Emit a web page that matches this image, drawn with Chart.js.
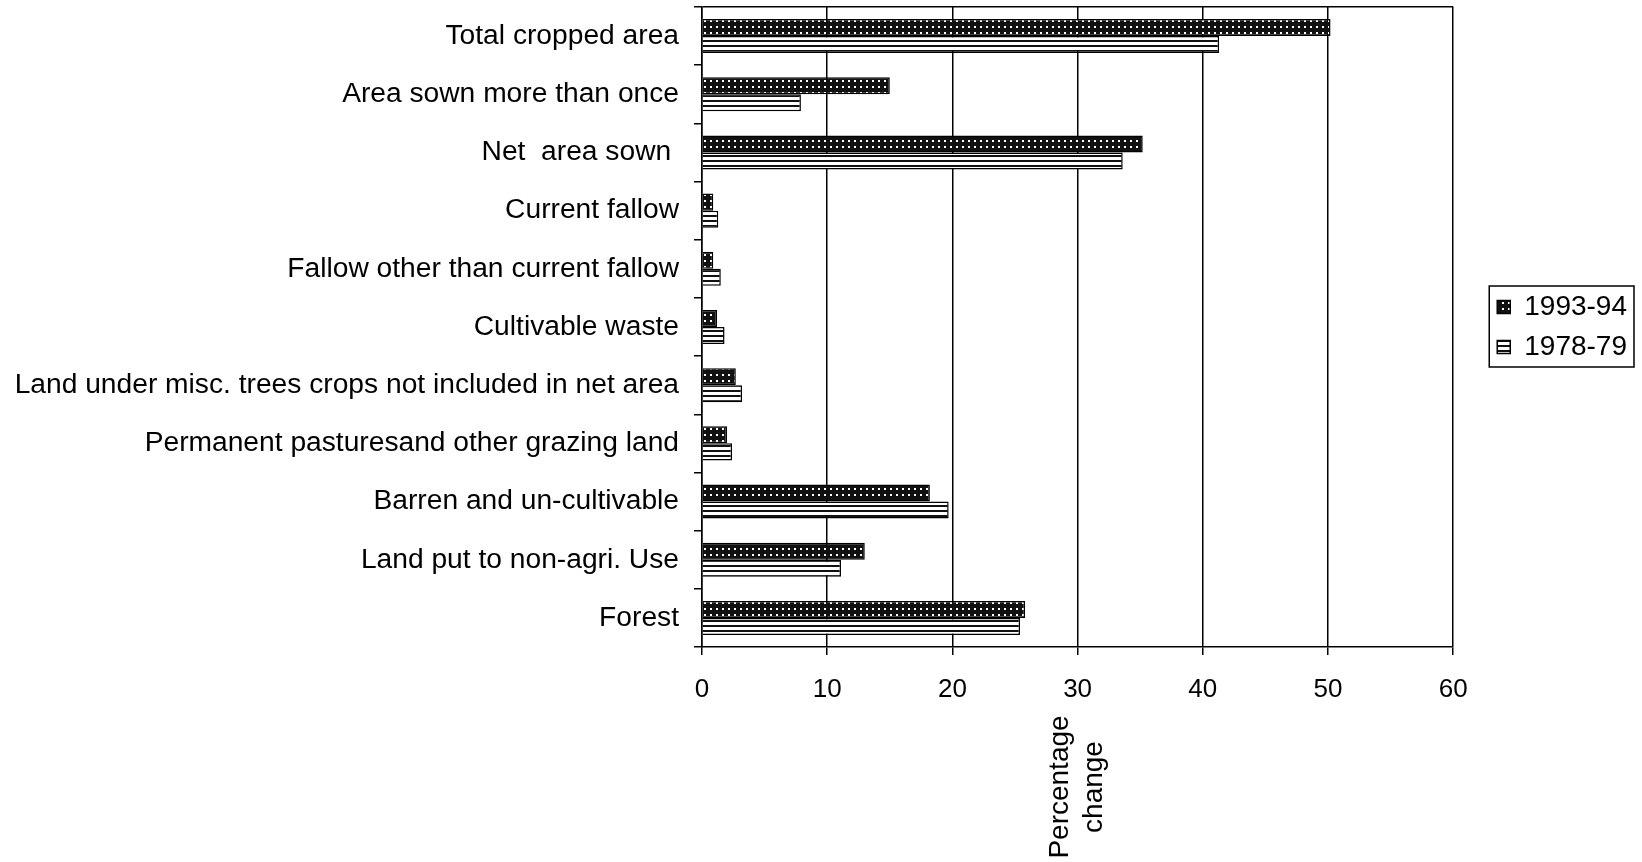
<!DOCTYPE html>
<html>
<head>
<meta charset="utf-8">
<script src="https://cdn.jsdelivr.net/npm/chart.js@4"></script>
<style>
  html, body { margin: 0; padding: 0; background: #fff; }
  canvas { display: block; }
</style>
</head>
<body>
<canvas id="chart" width="1642" height="862"></canvas>
<script>
// Land-use categories, top to bottom
const categories = [
  'Total cropped area',
  'Area sown more than once',
  'Net  area sown ',
  'Current fallow',
  'Fallow other than current fallow',
  'Cultivable waste',
  'Land under misc. trees crops not included in net area',
  'Permanent pasturesand other grazing land',
  'Barren and un-cultivable',
  'Land put to non-agri. Use',
  'Forest'
];
const seriesNames = ['1993-94', '1978-79'];
// Percentage share of each category
const values1993 = [50.2, 15.0, 35.2, 0.9, 0.9, 1.2, 2.7, 2.0, 18.2, 13.0, 25.8];
const values1978 = [41.3, 7.9, 33.6, 1.3, 1.5, 1.8, 3.2, 2.4, 19.7, 11.1, 25.4];
const xTicks = [0, 10, 20, 30, 40, 50, 60];
const axisTitle = ['Percentage', 'change'];

const FONT = '"Liberation Sans", Arial, Helvetica, sans-serif';
Chart.defaults.font.family = FONT;
Chart.defaults.color = '#000';

const canvas = document.getElementById('chart');
const ctx = canvas.getContext('2d');

// Fill patterns for the two series
function makePattern(w, h, paint) {
  const tile = document.createElement('canvas');
  tile.width = w; tile.height = h;
  paint(tile.getContext('2d'), w, h);
  return ctx.createPattern(tile, 'repeat');
}
const checkFill = makePattern(6, 6, (g, w, h) => {
  g.fillStyle = '#111'; g.fillRect(0, 0, w, h);
  g.fillStyle = '#fff'; g.fillRect(2, 2, 2, 2);
});
const stripeFill = makePattern(4, 5, (g, w, h) => {
  g.fillStyle = '#fff'; g.fillRect(0, 0, w, h);
  g.fillStyle = '#111'; g.fillRect(0, 0, w, 2);
});

// Frame around the legend entries
const legendFrame = {
  id: 'legendFrame',
  afterDraw(chart) {
    const boxes = chart.legend && chart.legend.legendHitBoxes;
    if (!boxes || !boxes.length) return;
    const l = Math.min(...boxes.map(b => b.left)) - 8;
    const r = Math.max(...boxes.map(b => b.left + b.width)) + 7;
    const t = Math.min(...boxes.map(b => b.top)) - 7;
    const btm = Math.max(...boxes.map(b => b.top + b.height)) + 6;
    const c = chart.ctx;
    c.save();
    c.strokeStyle = '#000';
    c.lineWidth = 1.5;
    c.strokeRect(l, t, r - l, btm - t);
    c.restore();
  }
};

// Vertical two-line title under the value axis
const rotatedAxisTitle = {
  id: 'rotatedAxisTitle',
  afterDraw(chart) {
    const s = chart.scales.x;
    const c = chart.ctx;
    c.save();
    c.translate((s.left + s.right) / 2, s.top + 140);
    c.rotate(-Math.PI / 2);
    c.font = '28px ' + FONT;
    c.fillStyle = '#000';
    c.textAlign = 'center';
    c.textBaseline = 'middle';
    c.fillText(axisTitle[0], 0, -17);
    c.fillText(axisTitle[1], 0, 17);
    c.restore();
  }
};

new Chart(ctx, {
  type: 'bar',
  data: {
    labels: categories,
    datasets: [
      { label: seriesNames[0], data: values1993, backgroundColor: checkFill, borderColor: '#000', borderWidth: 1.5 },
      { label: seriesNames[1], data: values1978, backgroundColor: stripeFill, borderColor: '#000', borderWidth: 1.5 }
    ]
  },
  options: {
    indexAxis: 'y',
    responsive: false,
    animation: false,
    devicePixelRatio: 1,
    datasets: { bar: { barPercentage: 1, categoryPercentage: 0.585 } },
    layout: { padding: { top: 7, right: 5, bottom: 0, left: 0 } },
    plugins: {
      tooltip: { enabled: false },
      legend: {
        position: 'right',
        fullSize: false,
        align: 'center',
        labels: {
          font: { size: 28 },
          color: '#000',
          boxWidth: 13,
          boxHeight: 13,
          padding: 12
        }
      }
    },
    scales: {
      x: {
        type: 'linear',
        min: 0,
        max: 60,
        afterBuildTicks: s => { s.ticks = xTicks.map(v => ({ value: v })); },
        ticks: { font: { size: 26 }, color: '#000', padding: 19 },
        grid: { color: '#000', lineWidth: 1.5, tickLength: 8 },
        border: { color: '#000', width: 1.5 },
        afterFit: s => { s.height = 215; }
      },
      y: {
        ticks: { font: { size: 28.2 }, color: '#000', padding: 15 },
        grid: {
          offset: true,
          drawOnChartArea: true,
          color: c => (c.index === 0 ? '#000' : 'rgba(0,0,0,0)'),
          tickColor: '#000',
          lineWidth: 1.5,
          tickLength: 8
        },
        border: { color: '#000', width: 1.5 },
        afterFit: s => { s.width = 702; s.paddingTop = 0; s.paddingBottom = 0; }
      },
      gap: {
        type: 'linear',
        axis: 'y',
        position: 'right',
        ticks: { display: false },
        grid: { display: false },
        border: { display: false },
        afterFit: s => { s.width = 32; }
      }
    }
  },
  plugins: [legendFrame, rotatedAxisTitle]
});
</script>
</body>
</html>
